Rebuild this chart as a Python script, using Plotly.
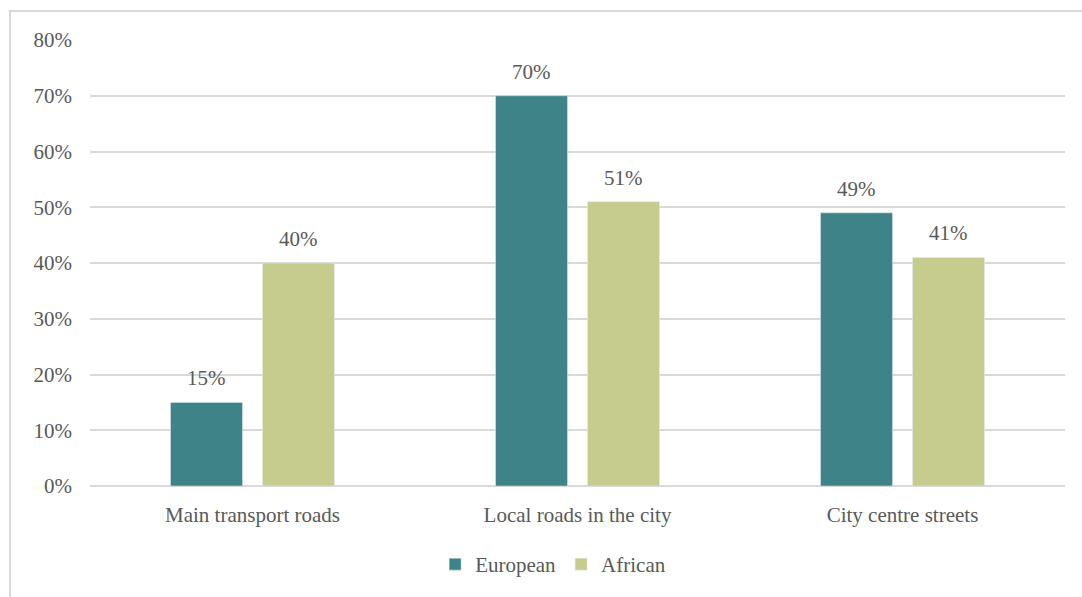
import plotly.graph_objects as go

categories = ["Main transport roads", "Local roads in the city", "City centre streets"]
european = [0.15, 0.70, 0.49]
african = [0.40, 0.51, 0.41]
y_ticks = [0, 0.1, 0.2, 0.3, 0.4, 0.5, 0.6, 0.7, 0.8]
y_tick_labels = ["0%", "10%", "20%", "30%", "40%", "50%", "60%", "70%", "80%"]

FONT = "Liberation Serif"
GRAY = "#595959"

fig = go.Figure()
fig.add_trace(go.Bar(
    name="European", x=categories, y=european,
    marker_color="#3E8388", offsetgroup="eu",
))
fig.add_trace(go.Bar(
    name="African", x=categories, y=african,
    marker_color="#C5CC8D", offsetgroup="af",
))

# data labels positioned via the data coordinates of each bar
annotations = []
for series, shift in ((european, -46), (african, 46)):
    for cat, v in zip(categories, series):
        annotations.append(dict(
            x=cat, y=v, xref="x", yref="y", text=f"{v:.0%}",
            showarrow=False, yanchor="bottom", yshift=10, xshift=shift,
            font=dict(family=FONT, size=21, color=GRAY)))

fig.update_layout(
    width=1082, height=597,
    margin=dict(l=90, r=17, t=40, b=111, autoexpand=False),
    paper_bgcolor="white", plot_bgcolor="white",
    barmode="group", bargap=0.434, bargroupgap=0.217,
    font=dict(family=FONT, size=21, color=GRAY),
    legend=dict(orientation="h", x=0.475, xanchor="center", y=-0.13, yanchor="top",
                font=dict(family=FONT, size=21, color=GRAY), itemwidth=30,
                traceorder="normal"),
    showlegend=True,
    annotations=annotations,
    shapes=[dict(type="rect", xref="paper", yref="paper",
                 x0=-80/975, x1=1.1, y0=-0.5, y1=(486-11)/446,
                 line=dict(color="#D9D9D9", width=2), fillcolor="rgba(0,0,0,0)",
                 layer="below")],
)
fig.update_yaxes(range=[0, 0.8], tickvals=y_ticks, ticktext=y_tick_labels,
                 showgrid=True, gridcolor="#D9D9D9", gridwidth=1.5,
                 zeroline=True, zerolinecolor="#D9D9D9", zerolinewidth=1.5,
                 ticks="", ticklabelstandoff=17, automargin=False,
                 tickfont=dict(family=FONT, size=21, color=GRAY))
fig.update_xaxes(showline=False, ticks="", ticklabelstandoff=14, automargin=False,
                 tickfont=dict(family=FONT, size=21, color=GRAY))

fig.write_html("out.html")
